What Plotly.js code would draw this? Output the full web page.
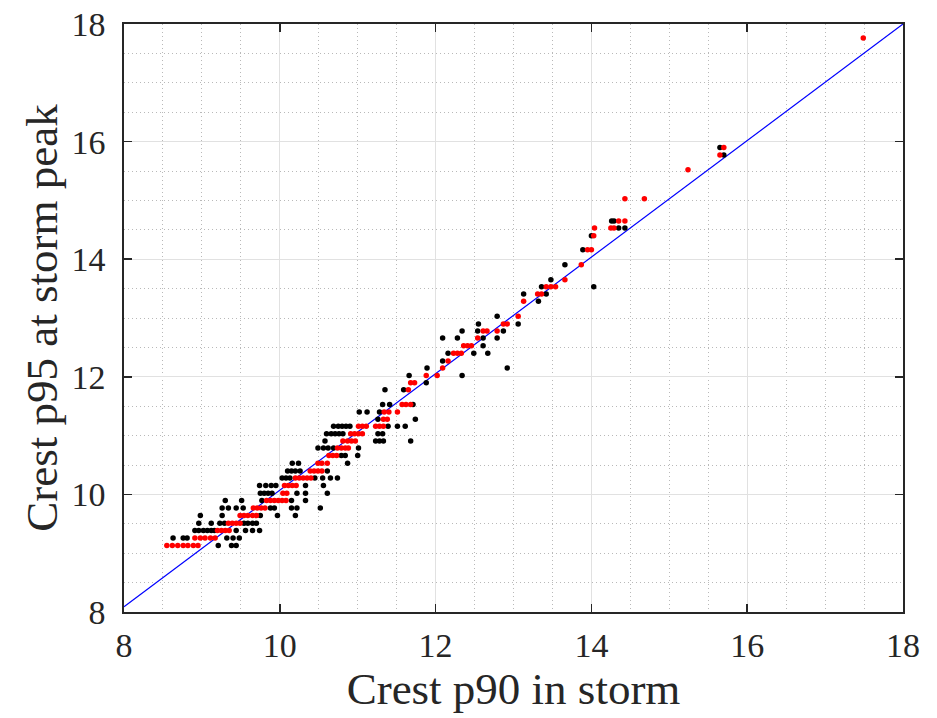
<!DOCTYPE html>
<html>
<head>
<meta charset="utf-8">
<script src="https://cdn.plot.ly/plotly-3.0.1.min.js"></script>
<style>html,body{margin:0;padding:0;background:#fff}#chart{width:937px;height:718px}</style>
</head>
<body>
<div id="chart"></div>
<script>
// Black series: [x, y] grouped by rows of y
const blackX = [
  9.21, 9.38, 9.44,
  8.63, 8.76, 8.81, 9.32, 9.40, 9.48,
  8.91, 8.96, 9.02, 9.07, 9.12, 9.16, 9.44, 9.56, 9.65, 9.74,
  8.96, 9.12, 9.23, 9.29, 9.54, 9.59, 9.65, 9.70,
  8.98, 9.26, 9.75, 9.97, 10.20,
  9.26, 9.34, 9.44, 9.53, 9.88, 9.93, 10.15, 10.22, 10.52,
  9.30, 9.51, 9.77, 10.15, 10.33,
  9.75, 9.80, 9.85, 9.90, 10.22, 10.33, 10.61,
  9.74, 9.82, 9.89, 9.95, 10.33, 10.56,
  10.03, 10.08, 10.13, 10.45, 10.55, 10.65, 10.74,
  10.10, 10.15, 10.20, 10.26, 10.61,
  10.16, 10.24, 10.87,
  10.79, 10.84, 11.00,
  10.49, 10.56, 10.62, 10.69, 11.01,
  10.58, 11.23, 11.28, 11.33, 11.68,
  10.60, 10.66, 10.71, 10.76, 10.81, 11.26, 11.32,
  10.69, 10.75, 10.80, 10.85, 10.90, 11.39, 11.51, 11.61,
  11.26, 11.74,
  11.02, 11.12, 11.28,
  11.32, 11.41, 11.71,
  11.35, 11.59,
  11.88,
  11.66, 12.34,
  11.89, 12.92,
  12.09,
  12.16, 12.49, 12.67,
  12.61,
  12.09, 12.28, 12.61, 12.79,
  12.34, 12.54, 12.87,
  12.55, 13.06,
  12.79,
  13.32,
  13.13, 13.42,
  13.36, 14.03,
  13.48,
  13.66,
  13.89,
  14.00,
  14.35, 14.43,
  14.26, 14.29,
  15.70,
  15.65
];
const blackY = [
  9.13, 9.13, 9.13,
  9.26, 9.26, 9.26, 9.26, 9.26, 9.26,
  9.385, 9.385, 9.385, 9.385, 9.385, 9.385, 9.385, 9.385, 9.385, 9.385,
  9.51, 9.51, 9.51, 9.51, 9.51, 9.51, 9.51, 9.51,
  9.64, 9.64, 9.64, 9.64, 9.64,
  9.77, 9.77, 9.77, 9.77, 9.77, 9.77, 9.77, 9.77, 9.77,
  9.895, 9.895, 9.895, 9.895, 9.895,
  10.02, 10.02, 10.02, 10.02, 10.02, 10.02, 10.02,
  10.15, 10.15, 10.15, 10.15, 10.15, 10.15,
  10.28, 10.28, 10.28, 10.28, 10.28, 10.28, 10.28,
  10.40, 10.40, 10.40, 10.40, 10.40,
  10.53, 10.53, 10.53,
  10.66, 10.66, 10.66,
  10.79, 10.79, 10.79, 10.79, 10.79,
  10.91, 10.91, 10.91, 10.91, 10.91,
  11.03, 11.03, 11.03, 11.03, 11.03, 11.03, 11.03,
  11.16, 11.16, 11.16, 11.16, 11.16, 11.16, 11.16, 11.16,
  11.28, 11.28,
  11.40, 11.40, 11.40,
  11.53, 11.53, 11.53,
  11.78, 11.78,
  11.90,
  12.02, 12.02,
  12.15, 12.15,
  12.27,
  12.40, 12.40, 12.40,
  12.53,
  12.66, 12.66, 12.66, 12.66,
  12.78, 12.78, 12.78,
  12.90, 12.90,
  13.03,
  13.285,
  13.41, 13.41,
  13.53, 13.53,
  13.65,
  13.905,
  14.16,
  14.40,
  14.53, 14.53,
  14.65, 14.65,
  15.77,
  15.90
];
// Red series
const redX = [
  8.55, 8.62, 8.69, 8.76, 8.82, 8.89, 8.95,
  8.91, 8.98, 9.04, 9.11, 9.17,
  9.20, 9.25, 9.30, 9.35,
  9.34, 9.39, 9.44, 9.49,
  9.49, 9.54, 9.59, 9.65, 9.70,
  9.66, 9.71, 9.76, 9.81,
  9.83, 9.88, 9.93, 9.98, 10.03, 10.08,
  10.04, 10.09,
  10.06, 10.11, 10.16, 10.21,
  10.20, 10.25, 10.30, 10.35, 10.40,
  10.39, 10.44, 10.49, 10.54,
  10.49, 10.54, 10.61,
  10.63, 10.68, 10.73,
  10.74, 10.79, 10.84, 10.88,
  10.81, 10.87, 10.92, 10.97,
  10.91, 10.96, 11.01, 11.06,
  11.01, 11.06, 11.11, 11.23, 11.28, 11.33,
  11.33, 11.38,
  11.34, 11.40, 11.51,
  11.57, 11.62, 11.68,
  11.65,
  11.68, 11.73,
  11.88, 12.02,
  12.09,
  12.16,
  12.23, 12.28, 12.33,
  12.36, 12.41, 12.46,
  12.54,
  12.61, 12.66, 12.79,
  12.87, 12.92,
  13.06,
  13.13,
  13.31, 13.36,
  13.42, 13.48, 13.54,
  13.66,
  13.87,
  13.95, 14.00,
  14.03,
  14.04, 14.25, 14.29,
  14.35, 14.43,
  14.43, 14.68,
  15.24,
  15.65,
  15.70,
  17.49
];
const redY = [
  9.13, 9.13, 9.13, 9.13, 9.13, 9.13, 9.13,
  9.26, 9.26, 9.26, 9.26, 9.26,
  9.385, 9.385, 9.385, 9.385,
  9.51, 9.51, 9.51, 9.51,
  9.64, 9.64, 9.64, 9.64, 9.64,
  9.77, 9.77, 9.77, 9.77,
  9.895, 9.895, 9.895, 9.895, 9.895, 9.895,
  10.02, 10.02,
  10.15, 10.15, 10.15, 10.15,
  10.28, 10.28, 10.28, 10.28, 10.28,
  10.40, 10.40, 10.40, 10.40,
  10.53, 10.53, 10.53,
  10.66, 10.66, 10.66,
  10.79, 10.79, 10.79, 10.79,
  10.91, 10.91, 10.91, 10.91,
  11.03, 11.03, 11.03, 11.03,
  11.16, 11.16, 11.16, 11.16, 11.16, 11.16,
  11.28, 11.28,
  11.40, 11.40, 11.40,
  11.53, 11.53, 11.53,
  11.78,
  11.90, 11.90,
  12.02, 12.02,
  12.15,
  12.27,
  12.40, 12.40, 12.40,
  12.53, 12.53, 12.53,
  12.66,
  12.78, 12.78, 12.78,
  12.90, 12.90,
  13.03,
  13.285,
  13.41, 13.41,
  13.53, 13.53, 13.53,
  13.65,
  13.905,
  14.16, 14.16,
  14.40,
  14.53, 14.53, 14.53,
  14.65, 14.65,
  15.03, 15.03,
  15.52,
  15.77,
  15.90,
  17.76
];
// Reference line
const lineX = [8, 18];
const lineY = [8.09, 18];
const tickVals = [8, 10, 12, 14, 16, 18];
const tickText = ['8', '10', '12', '14', '16', '18'];

const FONT = 'Liberation Serif, Times New Roman, serif';
const axisCommon = {
  range: [8, 18],
  tickvals: tickVals,
  ticktext: tickText,
  ticks: 'inside',
  ticklen: 8,
  tickwidth: 1.5,
  tickcolor: '#262626',
  showline: true,
  linecolor: '#262626',
  linewidth: 1.6,
  mirror: 'ticks',
  showgrid: true,
  gridcolor: 'rgb(225,225,225)',
  gridwidth: 1,
  zeroline: false,
  tickfont: {family: FONT, size: 34, color: '#262626'},
  minor: {dtick: 0.5, tick0: 8, showgrid: true, gridcolor: 'rgb(185,185,185)', griddash: '1px,3px', gridwidth: 1, ticks: ''},
  fixedrange: true
};

const data = [
  {x: lineX, y: lineY, type: 'scatter', mode: 'lines', line: {color: '#0000ff', width: 1.2}, hoverinfo: 'skip'},
  {x: blackX, y: blackY, type: 'scatter', mode: 'markers', marker: {color: '#000000', size: 5.5}},
  {x: redX, y: redY, type: 'scatter', mode: 'markers', marker: {color: '#ff0000', size: 5.5}}
];

const layout = {
  width: 937, height: 718,
  margin: {l: 124, r: 34, t: 24, b: 106},
  paper_bgcolor: '#ffffff',
  plot_bgcolor: '#ffffff',
  showlegend: false,
  xaxis: Object.assign({}, axisCommon, {
    ticklabelstandoff: 3,
    title: {text: 'Crest p90 in storm', font: {family: FONT, size: 45, color: '#262626'}, standoff: 4}
  }),
  yaxis: Object.assign({}, axisCommon, {
    ticklabelstandoff: 10,
    title: {text: 'Crest p95 at storm peak', font: {family: FONT, size: 45, color: '#262626'}, standoff: 0}
  })
};

Plotly.newPlot('chart', data, layout, {displayModeBar: false, staticPlot: true});
</script>
</body>
</html>
